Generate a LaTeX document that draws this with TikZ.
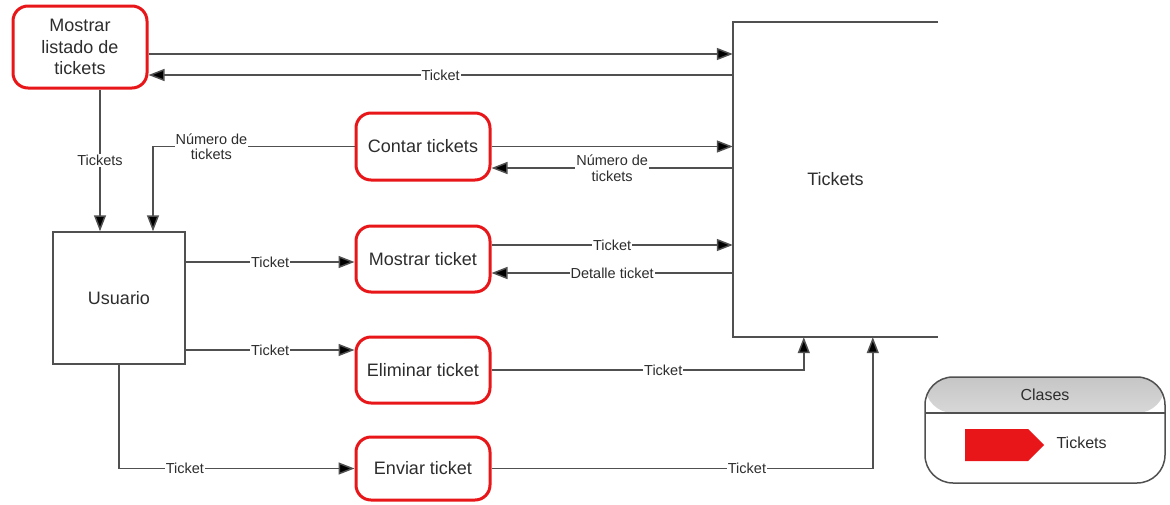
\documentclass[tikz,border=0pt]{standalone}
\usepackage{fontspec}
\setmainfont{Liberation Sans}
\usetikzlibrary{arrows.meta}
\definecolor{procred}{RGB}{232,22,24}
\definecolor{txt}{RGB}{45,45,45}
\definecolor{ln}{RGB}{80,80,80}
\begin{document}
\begin{tikzpicture}[x=1pt,y=-1pt,
  proc/.style={draw=procred, line width=3pt, rounded corners=15pt, fill=white,
    minimum width=134pt, minimum height=66pt, inner sep=2pt, align=center,
    text=txt, font=\fontsize{18}{21.7}\selectfont},
  ent/.style={draw=ln, line width=1.5pt, minimum width=132pt, minimum height=132pt,
    text=txt, font=\fontsize{18}{21.7}\selectfont},
  flow/.style={draw=ln, line width=1.5pt, -{Triangle[length=16pt,width=12pt,fill=black]}},
  lbl/.style={fill=white, inner sep=1pt, align=center, text=txt,
    font=\fontsize{14.5}{15.5}\selectfont},
  legbox/.style={draw=ln, line width=1.5pt, rounded corners=28pt,
    minimum width=240pt, minimum height=106pt}]
\useasboundingbox (0,0) rectangle (1170,504);

% nodes
\node[proc, minimum height=82pt] (mlt) at (80,47) {Mostrar\\listado de\\tickets};
\node[proc, minimum height=67pt] (ct) at (423,146.5) {Contar tickets};
\node[proc] (mt) at (423,259) {Mostrar ticket};
\node[proc] (el) at (423,370) {Eliminar ticket};
\node[proc, minimum height=63pt] (en) at (423,468.5) {Enviar ticket};
\node[ent] (us) at (119,298) {Usuario};
\node[minimum width=205pt, minimum height=315pt, inner sep=0pt, text=txt,
  font=\fontsize{18}{21.7}\selectfont] (tk) at (835.5,179.5) {Tickets};
\draw[ln, line width=1.5pt] (tk.north east) -- (tk.north west) -- (tk.south west) -- (tk.south east);

% connectors
\draw[flow] ([yshift=-7pt]mlt.east) -- ([yshift=-7pt]mlt.east -| tk.west);
\draw[flow] ([yshift=-28pt]mlt.east -| tk.west) -- node[lbl]{Ticket} ([yshift=-28pt]mlt.east);
\draw[flow] ([xshift=20pt]mlt.south) -- node[lbl]{Tickets} ([xshift=20pt]mlt.south |- us.north);
\draw[flow] (ct.west) -| node[lbl, pos=0.355]{Número de\\tickets} ([xshift=34pt]us.north);
\draw[flow] (ct.east) -- (ct.east -| tk.west);
\draw[flow] ([yshift=-21.5pt]ct.east -| tk.west) -- node[lbl]{Número de\\tickets} ([yshift=-21.5pt]ct.east);
\draw[flow] ([yshift=14pt]mt.east) -- node[lbl]{Ticket} ([yshift=14pt]mt.east -| tk.west);
\draw[flow] ([yshift=-14pt]mt.east -| tk.west) -- node[lbl]{Detalle ticket} ([yshift=-14pt]mt.east);
\draw[flow] ([yshift=36pt]us.east) -- node[lbl]{Ticket} ([yshift=36pt]us.east -| mt.west);
\draw[flow] ([yshift=-52pt]us.east) -- node[lbl]{Ticket} ([yshift=-52pt]us.east -| el.west);
\draw[flow] (el.east) -| node[lbl, pos=0.275]{Ticket} ([xshift=71pt]tk.south west);
\draw[flow] (en.east) -| node[lbl, pos=0.335]{Ticket} ([xshift=140pt]tk.south west);
\draw[flow] (us.south) |- node[lbl, pos=0.64]{Ticket} (en.west);

% legend
\node[legbox, path picture={
  \shade[top color=gray!45, bottom color=gray!3]
    (path picture bounding box.north west) rectangle ([yshift=-36pt]path picture bounding box.north east);
  \draw[ln, line width=1.5pt] ([yshift=-36pt]path picture bounding box.north west) -- ([yshift=-36pt]path picture bounding box.north east);
  }] (leg) at (1045,430) {};
\node[text=txt, font=\fontsize{16}{18}\selectfont] (legt) at (1045,395) {Clases};
\fill[procred] (965,429) -- (1028,429) -- (1044,445) -- (1028,461) -- (965,461) -- cycle;
\node[anchor=west, text=txt, font=\fontsize{16}{18}\selectfont] (legi) at (1053,443) {Tickets};
\end{tikzpicture}
\end{document}
